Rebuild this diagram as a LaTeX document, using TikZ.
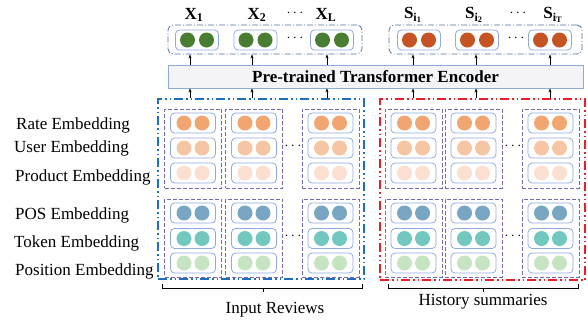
\documentclass[tikz,border=0pt]{standalone}
\usepackage{fontspec}
\setmainfont{Liberation Serif}
\usetikzlibrary{arrows.meta}
\definecolor{embline}{RGB}{143,170,220}
\definecolor{purp}{RGB}{122,104,170}
\definecolor{bigblue}{RGB}{31,110,190}
\definecolor{bigred}{RGB}{232,30,40}
\definecolor{topline}{RGB}{80,110,160}
\definecolor{encfill}{RGB}{243,243,248}
\definecolor{cgreen}{RGB}{72,125,50}
\definecolor{cred}{RGB}{197,83,36}
\definecolor{orA}{RGB}{241,166,114}
\definecolor{orB}{RGB}{246,198,164}
\definecolor{orC}{RGB}{251,224,210}
\definecolor{blA}{RGB}{120,166,194}
\definecolor{blB}{RGB}{114,200,191}
\definecolor{blC}{RGB}{199,228,194}
\begin{document}
\begin{tikzpicture}[x=1pt,y=-1pt,
  every node/.style={font=\fontsize{17}{20}\selectfont},
  embbox/.style={draw=embline, line width=0.8pt, rounded corners=4pt, minimum width=45pt, minimum height=20pt, inner sep=0pt},
  topbox/.style={embbox, minimum width=43pt},
  ball/.style={circle, minimum size=15pt, inner sep=0pt, fill=#1},
  colbox/.style={draw=purp, line width=0.9pt, dash pattern=on 4pt off 2pt, minimum width=57pt, inner sep=0pt},
  grpbox/.style={line width=2pt, dash pattern=on 9pt off 3pt on 1.5pt off 3pt on 1.5pt off 3pt, inner sep=0pt},
  topgrp/.style={draw=topline, line width=0.8pt, rounded corners=5pt, dash pattern=on 6pt off 2pt on 1pt off 2pt, inner sep=0pt},
  arr/.style={-{Stealth[length=4pt,width=3pt]}, line width=0.6pt},
  lbl/.style={anchor=west, inner sep=0pt},
  dotsl/.style={inner sep=0pt, font=\fontsize{14}{16}\selectfont}
]
\useasboundingbox (0,0) rectangle (588,325);

% top groups
\node[topgrp, minimum width=194pt, minimum height=29pt] (xgrp) at (265,39.5) {};
\node[topgrp, minimum width=193pt, minimum height=29pt] (sgrp) at (485.5,39.5) {};
\foreach \n/\x/\c in {x1/197/cgreen, x2/255.5/cgreen, x3/332/cgreen, s1/419/cred, s2/477/cred, s3/550/cred}{
  \node[topbox] (\n) at (\x,40) {};
  \node[ball=\c] (\n a) at (\x-9.5,40) {};
  \node[ball=\c] (\n b) at (\x+9.5,40) {};
}
\node[dotsl] (xdots) at (295,38) {$\cdots$};
\node[dotsl] (sdots) at (516,38) {$\cdots$};

% top labels
\node (lx1) at (194,15) {\textbf{X}\textsubscript{\textbf{1}}};
\node (lx2) at (257,15) {\textbf{X}\textsubscript{\textbf{2}}};
\node (lx3) at (326,15) {\textbf{X}\textsubscript{\textbf{L}}};
\node[dotsl] (lxd) at (295,13) {$\cdots$};
\node (ls1) at (413,15) {\textbf{S}\textsubscript{\textbf{i}\textsubscript{\textbf{1}}}};
\node (ls2) at (474,15) {\textbf{S}\textsubscript{\textbf{i}\textsubscript{\textbf{2}}}};
\node (ls3) at (553,15) {\textbf{S}\textsubscript{\textbf{i}\textsubscript{\textbf{T}}}};
\node[dotsl] (lsd) at (518,13) {$\cdots$};

% encoder
\node[draw=embline, fill=encfill, line width=0.8pt, minimum width=415pt, minimum height=23pt, inner sep=0pt] (enc) at (375.5,76.5) {\textbf{Pre-trained Transformer Encoder}};

% big group boxes
\node[grpbox, draw=bigblue, minimum width=206pt, minimum height=180pt] (inrev) at (261,189) {};
\node[grpbox, draw=bigred, minimum width=205pt, minimum height=181pt] (hist) at (482.5,189.5) {};

% arrows
\foreach \i/\x in {1/190,2/252,3/327,4/413,5/476,6/550}{
  \coordinate (ax\i) at (\x,0);
}
\foreach \i in {1,2,3}{
  \draw[arr] (inrev.north -| ax\i) -- (enc.south -| ax\i);
  \draw[arr] (enc.north -| ax\i) -- (xgrp.south -| ax\i);
}
\foreach \i in {4,5,6}{
  \draw[arr] (hist.north -| ax\i) -- (enc.south -| ax\i);
  \draw[arr] (enc.north -| ax\i) -- (sgrp.south -| ax\i);
}

% columns
\foreach \g/\x in {a/193, b/254, c/330.5, d/413.5, e/473.5, f/550.5}{
  \node[colbox, minimum height=79pt] (up\g) at (\x,148.5) {};
  \node[colbox, minimum height=78pt] (lo\g) at (\x,238) {};
  \foreach \r/\y/\c in {1/123/orA, 2/148/orB, 3/173/orC, 4/213/blA, 5/238.5/blB, 6/263/blC}{
    \node[embbox] (e\g\r) at (\x,\y) {};
    \node[ball=\c] (e\g\r a) at (\x-9,\y) {};
    \node[ball=\c] (e\g\r b) at (\x+9,\y) {};
  }
}
\foreach \n/\x/\y in {d1/293/146, d2/293/236, d3/513/146, d4/513/236}{
  \node[dotsl] (\n) at (\x,\y) {$\cdots$};
}

% left labels
\node[lbl] (l1) at (16,125) {Rate Embedding};
\node[lbl] (l2) at (14,148) {User Embedding};
\node[lbl] (l3) at (15,177) {Product Embedding};
\node[lbl] (l4) at (15,215) {POS Embedding};
\node[lbl] (l5) at (14,243) {Token Embedding};
\node[lbl] (l6) at (15,271) {Position Embedding};

% braces
\coordinate (b1l) at (162,288); \coordinate (b1r) at (362,288); \coordinate (b1m) at (263,288);
\coordinate (b2l) at (388,288); \coordinate (b2r) at (578,288); \coordinate (b2m) at (483,288);
\draw[line width=0.7pt] (b1l) ++(0,-4) -- (b1l) -- (b1r) -- ++(0,-4);
\draw[line width=0.7pt] (b1m) -- ++(0,4);
\draw[line width=0.7pt] (b2l) ++(0,-4) -- (b2l) -- (b2r) -- ++(0,-4);
\draw[line width=0.7pt] (b2m) -- ++(0,4);
\node (t1) at (275,310) {Input Reviews};
\node (t2) at (483,302) {History summaries};
\end{tikzpicture}
\end{document}
